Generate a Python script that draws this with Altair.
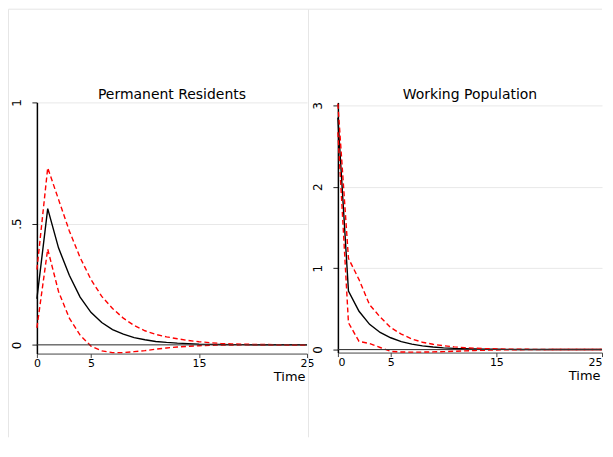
import altair as alt
import pandas as pd

# ---------------- data ----------------
time = list(range(26))

titles = ["Permanent Residents", "Working Population"]

pr_irf = [0.19, 0.562, 0.40, 0.287, 0.197, 0.134, 0.092, 0.063, 0.044, 0.030,
          0.021, 0.014, 0.010, 0.007, 0.005, 0.003, 0.002, 0.0015, 0.001, 0.0007,
          0.0005, 0.0003, 0.0002, 0.0001, 0.0001, 0.0]
pr_upper = [0.31, 0.73, 0.60, 0.47, 0.36, 0.27, 0.20, 0.15, 0.11, 0.08,
            0.058, 0.043, 0.033, 0.025, 0.018, 0.013, 0.009, 0.006, 0.004, 0.003,
            0.002, 0.0015, 0.001, 0.0007, 0.0005, 0.0003]
pr_lower = [0.07, 0.395, 0.22, 0.11, 0.04, -0.005, -0.025, -0.032, -0.032, -0.028,
            -0.024, -0.018, -0.013, -0.009, -0.006, -0.004, -0.002, -0.001, -0.0005, -0.0003,
            -0.0002, -0.0001, 0.0, 0.0, 0.0, 0.0]

wp_irf = [2.85, 0.72, 0.47, 0.31, 0.21, 0.145, 0.098, 0.066, 0.045, 0.031,
          0.021, 0.014, 0.010, 0.007, 0.005, 0.003, 0.002, 0.001, 0.0007, 0.0005,
          0.0003, 0.0002, 0.0001, 0.0001, 0.0, 0.0]
wp_upper = [3.02, 1.12, 0.86, 0.55, 0.40, 0.27, 0.19, 0.13, 0.09, 0.065,
            0.047, 0.033, 0.023, 0.016, 0.011, 0.008, 0.005, 0.004, 0.003, 0.002,
            0.001, 0.0008, 0.0005, 0.0003, 0.0002, 0.0001]
wp_lower = [2.67, 0.33, 0.10, 0.075, 0.025, -0.022, -0.030, -0.032, -0.031, -0.029,
            -0.026, -0.021, -0.016, -0.011, -0.008, -0.005, -0.003, -0.002, -0.001, -0.0005,
            -0.0002, 0.0, 0.0, 0.0, 0.0, 0.0]

x_tick_values = [0, 5, 15, 25]
pr_ytick_values = [0, 0.5, 1]
pr_ytick_labels = ["0", ".5", "1"]
wp_ytick_values = [0, 1, 2, 3]
wp_ytick_labels = ["0", "1", "2", "3"]

FONT = "DejaVu Sans"


def label_expr(values, labels):
    expr = "''"
    for v, l in reversed(list(zip(values, labels))):
        expr = f"datum.value == {v} ? '{l}' : ({expr})"
    return expr


def panel(title, irf, lower, upper, ydomain, yvals, ylabels, width, height,
          draw_left_border, flush):
    df = pd.DataFrame({"t": time, "irf": irf, "lower": lower, "upper": upper})
    long = df.melt("t", var_name="series", value_name="v")

    x = alt.X("t:Q", scale=alt.Scale(domain=[0, 25], nice=False, zero=False),
              axis=alt.Axis(values=x_tick_values, format="d", title="Time",
                            grid=False, labelFont=FONT, labelFontSize=11,
                            labelColor="black", labelPadding=0, tickSize=4,
                            labelFlush=flush,
                            tickColor="#444", domainColor="#444",
                            titleFont=FONT, titleFontSize=13,
                            titleFontWeight="normal", titleColor="black",
                            titleAnchor="end", titleAlign="right",
                            titleBaseline="alphabetic", titleX=width - 2,
                            titleY=27))
    y = alt.Y("v:Q", scale=alt.Scale(domain=ydomain, nice=False, zero=False),
              axis=alt.Axis(values=yvals, labelExpr=label_expr(yvals, ylabels),
                            title=None, grid=True, gridColor="#e8e8e8",
                            labelAngle=270, labelAlign="center",
                            labelBaseline="alphabetic", labelPadding=11,
                            labelFont=FONT, labelFontSize=12, labelColor="black",
                            tickSize=5, tickColor="#222", domainColor="black",
                            domainWidth=1.5))

    black = alt.Chart(long).transform_filter(
        alt.datum.series == "irf").mark_line(
        color="black", strokeWidth=1.4).encode(x=x, y=y)
    red = alt.Chart(long).transform_filter(
        alt.datum.series != "irf").mark_line(
        color="#ff0000", strokeWidth=1.4, strokeDash=[5, 3]).encode(
        x=x, y=y, detail="series:N")

    zero = alt.Chart(pd.DataFrame({"z": [0]})).mark_rule(
        color="#333", strokeWidth=1).encode(y=alt.Y("z:Q"))

    title_text = alt.Chart(pd.DataFrame({"label": [title]})).mark_text(
        font=FONT, fontSize=14, color="black", align="center",
        baseline="alphabetic").encode(
        text="label:N", x=alt.value(width / 2), y=alt.value(-3))

    one = pd.DataFrame({"a": [0]})
    top_border = alt.Chart(one).mark_rule(color="#e6e6e6", strokeWidth=1).encode(
        x=alt.value(-29.5 if not draw_left_border else -28.5),
        x2=alt.value(width if not draw_left_border else width + 1.5),
        y=alt.value(-93.5))
    layers = [top_border]
    if draw_left_border:
        left_border = alt.Chart(one).mark_rule(color="#e6e6e6", strokeWidth=1).encode(
            x=alt.value(-28.5), y=alt.value(-93.5), y2=alt.value(336))
        mid_border = alt.Chart(one).mark_rule(color="#e6e6e6", strokeWidth=1).encode(
            x=alt.value(width + 1.5), y=alt.value(-93.5), y2=alt.value(336))
        layers += [left_border, mid_border]

    return alt.layer(*layers, black, red, zero, title_text).properties(
        width=width, height=height)


left = panel(titles[0], pr_irf, pr_lower, pr_upper, [-0.036, 1.0],
             pr_ytick_values, pr_ytick_labels, 271, 252, True, False)
right = panel(titles[1], wp_irf, wp_lower, wp_upper, [-0.037, 3.037],
              wp_ytick_values, wp_ytick_labels, 265, 251, False, True)

chart = alt.hconcat(left, right, spacing=31, bounds="flush").properties(
    padding=0
).configure_view(stroke=None)

chart.save("out.html", embed_options={"renderer": "svg", "actions": False})
